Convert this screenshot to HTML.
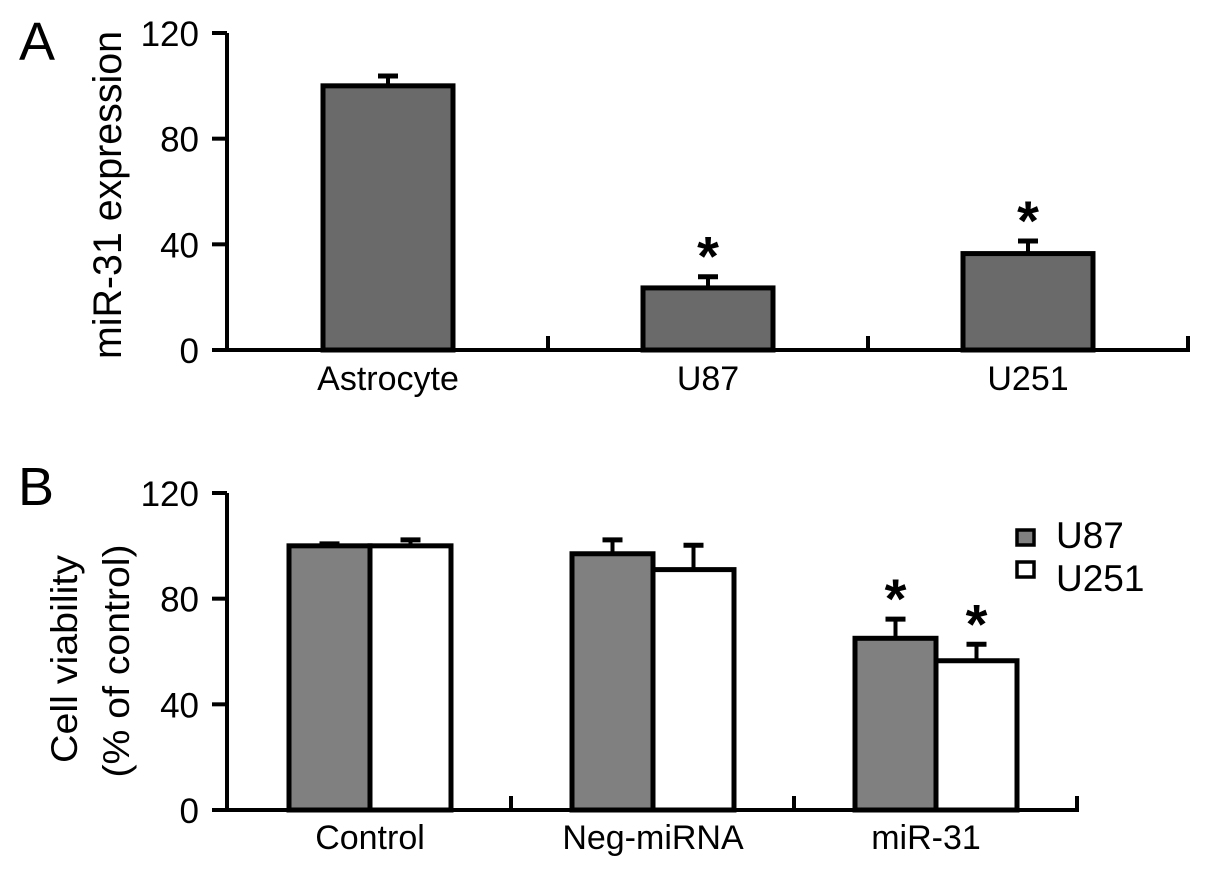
<!DOCTYPE html>
<html><head><meta charset="utf-8"><style>
html,body{margin:0;padding:0;background:#fff;}
svg{display:block;font-family:"Liberation Sans",Arial,sans-serif;}
</style></head><body>
<svg id="fig" width="1205" height="878" viewBox="0 0 1205 878">
<text x="19" y="60" font-size="54">A</text>
<text x="18" y="505" font-size="54">B</text>
<text transform="translate(121,195) rotate(-90)" text-anchor="middle" font-size="40" textLength="328" lengthAdjust="spacingAndGlyphs">miR-31 expression</text>
<text transform="translate(77,659) rotate(-90)" text-anchor="middle" font-size="37" textLength="208" lengthAdjust="spacingAndGlyphs">Cell viability</text>
<text transform="translate(129,661) rotate(-90)" text-anchor="middle" font-size="37" textLength="233" lengthAdjust="spacingAndGlyphs">(% of control)</text>
<g id="ga"></g><g id="gb"></g>
<g>
<rect x="1017" y="530" width="17" height="15" fill="#808080" stroke="#000" stroke-width="3.5"/>
<text x="1056" y="548" font-size="37">U87</text>
<rect x="1017" y="562" width="17" height="15" fill="#fff" stroke="#000" stroke-width="3.5"/>
<text x="1056" y="591" font-size="37">U251</text>
</g>
</svg>
<script>
const aCats=["Astrocyte","U87","U251"];
const aVals=[100,23.5,36.5];
const aErr=[4.5,5,5.5];
const aStar=[false,true,true];
const bCats=["Control","Neg-miRNA","miR-31"];
const bU87=[100,97,65];
const bU87Err=[1.5,6,8];
const bU251=[100,91,56.5];
const bU251Err=[3,10,7];
const bStar87=[false,false,true];
const bStar251=[false,false,true];
const yTicks=[0,40,80,120];

const NS="http://www.w3.org/2000/svg";
function mk(g,tag,attrs,name){const e=document.createElementNS(NS,tag);for(const k in attrs)e.setAttribute(k,attrs[k]);


g.appendChild(e);return e;}
function axes(g,y0,y120,xEnd,tickXs,prefix){
  const ys=v=>y0-(y0-y120)*v/120;
  mk(g,'line',{x1:227,y1:y120,x2:227,y2:y0+2,stroke:'#000','stroke-width':4},prefix+'-y-axis');
  mk(g,'line',{x1:212,y1:y0,x2:xEnd+2,y2:y0,stroke:'#000','stroke-width':4},prefix+'-x-axis');
  yTicks.forEach(t=>{mk(g,'line',{x1:212,y1:ys(t),x2:227,y2:ys(t),stroke:'#000','stroke-width':4},prefix+'-y-tick');
    const tx=mk(g,'text',{x:199,y:ys(t)+13,'text-anchor':'end','font-size':35},prefix+'-y-tick-label');tx.textContent=t;});
  tickXs.forEach(x=>mk(g,'line',{x1:x,y1:y0-14,x2:x,y2:y0,stroke:'#000','stroke-width':4},prefix+'-x-tick'));
  return ys;
}
function bar(g,x,w,v,e,ys,y0,fill,star,name){
  const yt=ys(v),ye=ys(v+e);
  mk(g,'line',{x1:x+w/2,y1:ye,x2:x+w/2,y2:yt,stroke:'#000','stroke-width':4},name+'-error-bar');
  mk(g,'line',{x1:x+w/2-10,y1:ye+2,x2:x+w/2+10,y2:ye+2,stroke:'#000','stroke-width':5},name+'-error-cap');
  mk(g,'rect',{x:x,y:yt,width:w,height:y0-yt,fill:fill,stroke:'#000','stroke-width':5},name);
  if(star){const s=mk(g,'text',{x:x+w/2,y:ye+1,'text-anchor':'middle','font-size':56,'font-weight':'bold'},name+'-significance');s.textContent='*';}
}
// Panel A
const ga=document.getElementById('ga');
const ysA=axes(ga,350,33,1188,[548,868,1188],'panel-a');
aCats.forEach((c,i)=>{const cx=388+320*i;
  bar(ga,cx-65,130,aVals[i],aErr[i],ysA,350,'#6a6a6a',aStar[i],'bar-'+c.toLowerCase());
  const t=mk(ga,'text',{x:cx,y:390,'text-anchor':'middle','font-size':34},'x-label-'+c.toLowerCase());t.textContent=c;});
// Panel B
const gb=document.getElementById('gb');
const ysB=axes(gb,810,493,1077,[511,794,1077],'panel-b');
bCats.forEach((c,i)=>{const cx=370+283*i;const n=c.toLowerCase();
  bar(gb,cx-81,81,bU87[i],bU87Err[i],ysB,810,'#808080',bStar87[i],'bar-u87-'+n);
  bar(gb,cx,81,bU251[i],bU251Err[i],ysB,810,'#fff',bStar251[i],'bar-u251-'+n);
  const t=mk(gb,'text',{x:i==2?cx-10:cx,y:849,'text-anchor':'middle','font-size':34},'x-label-'+n);t.textContent=c;});
</script>
</body></html>
